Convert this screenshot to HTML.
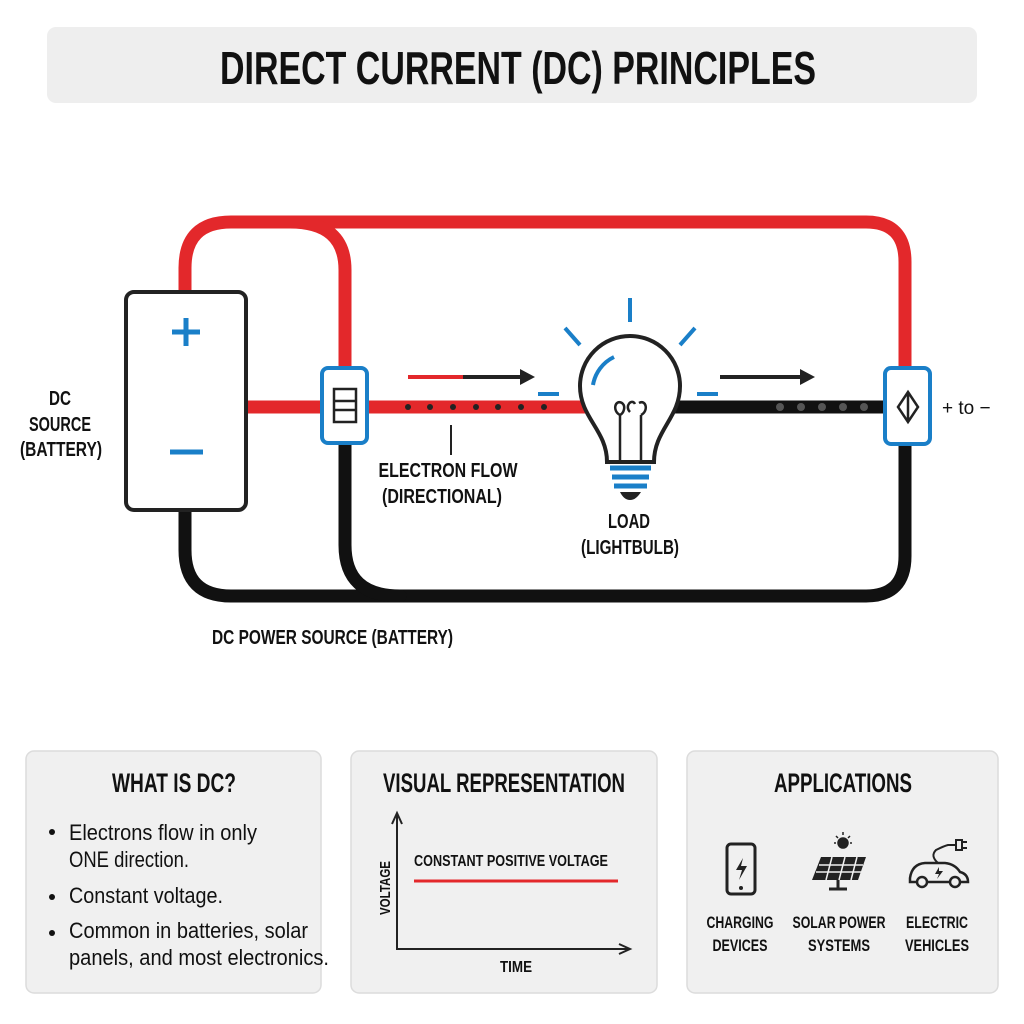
<!DOCTYPE html>
<html><head><meta charset="utf-8"><style>
html,body{margin:0;padding:0;background:#fff;}
svg{display:block;}
text{font-family:"Liberation Sans Narrow","Liberation Sans",sans-serif;fill:#111;}
</style></head><body>
<svg width="1024" height="1024" viewBox="0 0 1024 1024" xmlns="http://www.w3.org/2000/svg">
<rect width="1024" height="1024" fill="#fff"/>
<rect x="47" y="27" width="930" height="76" rx="9" fill="#eeeeee"/>
<text x="518" y="84" font-size="46" font-weight="bold" text-anchor="middle" textLength="596" lengthAdjust="spacingAndGlyphs">DIRECT CURRENT (DC) PRINCIPLES</text>

<g fill="none" stroke-width="13" stroke-linecap="round">
<path d="M185 292 V268 Q185 222 231 222 H866 Q905 222 905 262 V368" stroke="#e3282b"/>
<path d="M290 222 Q345 222 345 270 V368" stroke="#e3282b"/>
<path d="M247 407 H322" stroke="#e3282b" stroke-linecap="butt"/>
<path d="M367 407 H592" stroke="#e3282b" stroke-linecap="butt"/>
<path d="M185 510 V550 Q185 596 231 596 H866 Q905 596 905 556 V445" stroke="#111"/>
<path d="M345 445 V545 Q345 596 400 596" stroke="#111"/>
<path d="M672 407 H885" stroke="#111" stroke-linecap="butt"/>
</g>
<g fill="#222">
<circle cx="408" cy="407" r="3"/><circle cx="430" cy="407" r="3"/><circle cx="453" cy="407" r="3"/><circle cx="476" cy="407" r="3"/><circle cx="498" cy="407" r="3"/><circle cx="521" cy="407" r="3"/><circle cx="544" cy="407" r="3"/>
</g>
<g fill="#555">
<circle cx="780" cy="407" r="4"/><circle cx="801" cy="407" r="4"/><circle cx="822" cy="407" r="4"/><circle cx="843" cy="407" r="4"/><circle cx="864" cy="407" r="4"/>
</g>
<rect x="126" y="292" width="120" height="218" rx="8" fill="#fff" stroke="#222" stroke-width="4"/>
<path d="M186 318 V346 M172 332 H200" stroke="#1a7fc8" stroke-width="5"/>
<path d="M170 452 H203" stroke="#1a7fc8" stroke-width="5"/>
<rect x="322" y="368" width="45" height="75" rx="6" fill="#fff" stroke="#1a7fc8" stroke-width="4"/>
<rect x="334" y="389" width="22" height="33" fill="none" stroke="#222" stroke-width="2.5"/>
<path d="M334 401 H356 M334 410 H356" stroke="#222" stroke-width="2.5"/>
<rect x="885" y="368" width="45" height="76" rx="6" fill="#fff" stroke="#1a7fc8" stroke-width="4"/>
<path d="M908 392 L918 407 L908 422 L898 407 Z M908 392 V422" fill="none" stroke="#222" stroke-width="2.5"/>
<text x="942" y="414" font-size="19" font-family="Liberation Sans,sans-serif">+ to −</text>
<path d="M408 377 H463" stroke="#e3282b" stroke-width="4"/>
<path d="M463 377 H522" stroke="#222" stroke-width="4"/>
<path d="M520 369 L535 377 L520 385 Z" fill="#222"/>
<path d="M720 377 H802" stroke="#222" stroke-width="4"/>
<path d="M800 369 L815 377 L800 385 Z" fill="#222"/>
<path d="M538 394 H559 M697 394 H718" stroke="#1a7fc8" stroke-width="4"/>
<path d="M630 298 V322 M565 328 L580 345 M695 328 L680 345" stroke="#1a7fc8" stroke-width="4"/>
<path d="M607 462 C607 430 580 418 580 386 A50 50 0 0 1 680 386 C680 418 654 430 654 462 Z" fill="#fff" stroke="#222" stroke-width="4"/>
<path d="M593 385 A38 38 0 0 1 614 357" fill="none" stroke="#1a7fc8" stroke-width="4"/>
<path d="M620 462 V415 M641 462 V415 M620 415 c-8 -4 -5 -16 2 -12 c4 3 2 10 -2 12 M630 412 c-6 -6 2 -14 5 -8 M641 415 c8 -4 5 -16 -2 -12" fill="none" stroke="#222" stroke-width="2.5"/>
<path d="M610 468 H651 M612 477 H649 M614 486 H647" stroke="#1a7fc8" stroke-width="5"/>
<path d="M620 492 H641 Q636 500 630 500 Q624 500 620 492Z" fill="#222"/>
<path d="M451 425 V455" stroke="#222" stroke-width="2"/>
<g font-size="20" font-weight="bold">
<text x="448" y="477" text-anchor="middle" textLength="139" lengthAdjust="spacingAndGlyphs">ELECTRON FLOW</text>
<text x="442" y="503" text-anchor="middle" textLength="120" lengthAdjust="spacingAndGlyphs">(DIRECTIONAL)</text>
<text x="629" y="528" text-anchor="middle" textLength="42" lengthAdjust="spacingAndGlyphs">LOAD</text>
<text x="630" y="554" text-anchor="middle" textLength="98" lengthAdjust="spacingAndGlyphs">(LIGHTBULB)</text>
<text x="60" y="405" text-anchor="middle" textLength="22" lengthAdjust="spacingAndGlyphs">DC</text>
<text x="60" y="431" text-anchor="middle" textLength="62" lengthAdjust="spacingAndGlyphs">SOURCE</text>
<text x="61" y="456" text-anchor="middle" textLength="82" lengthAdjust="spacingAndGlyphs">(BATTERY)</text>
<text x="212" y="644" textLength="241" lengthAdjust="spacingAndGlyphs">DC POWER SOURCE (BATTERY)</text>
</g>

<g fill="#f0f0f0" stroke="#dcdcdc" stroke-width="1.5">
<rect x="26" y="751" width="295" height="242" rx="8"/>
<rect x="351" y="751" width="306" height="242" rx="8"/>
<rect x="687" y="751" width="311" height="242" rx="8"/>
</g>
<g font-size="27" text-anchor="middle" font-weight="bold">
<text x="174" y="792" textLength="124" lengthAdjust="spacingAndGlyphs">WHAT IS DC?</text>
<text x="504" y="792" textLength="242" lengthAdjust="spacingAndGlyphs">VISUAL REPRESENTATION</text>
<text x="843" y="792" textLength="138" lengthAdjust="spacingAndGlyphs">APPLICATIONS</text>
</g>
<g font-size="22">
<circle cx="52" cy="832" r="3" fill="#111"/>
<text x="69" y="840" textLength="188" lengthAdjust="spacingAndGlyphs">Electrons flow in only</text>
<text x="69" y="867" textLength="120" lengthAdjust="spacingAndGlyphs">ONE direction.</text>
<circle cx="52" cy="897" r="3" fill="#111"/>
<text x="69" y="903" textLength="154" lengthAdjust="spacingAndGlyphs">Constant voltage.</text>
<circle cx="52" cy="933" r="3" fill="#111"/>
<text x="69" y="938" textLength="239" lengthAdjust="spacingAndGlyphs">Common in batteries, solar</text>
<text x="69" y="965" textLength="260" lengthAdjust="spacingAndGlyphs">panels, and most electronics.</text>
</g>
<path d="M397 815 V949 H628" fill="none" stroke="#222" stroke-width="2"/>
<path d="M392 824 L397 813 L402 824 M619 944 L630 949 L619 954" fill="none" stroke="#222" stroke-width="2"/>
<path d="M414 881 H618" stroke="#e3282b" stroke-width="3"/>
<g font-weight="bold">
<text x="414" y="866" font-size="16" textLength="194" lengthAdjust="spacingAndGlyphs">CONSTANT POSITIVE VOLTAGE</text>
<text transform="translate(390 915) rotate(-90)" font-size="15" textLength="54" lengthAdjust="spacingAndGlyphs">VOLTAGE</text>
<text x="516" y="972" font-size="16" text-anchor="middle" textLength="32" lengthAdjust="spacingAndGlyphs">TIME</text>
</g>
<rect x="727" y="844" width="28" height="50" rx="4" fill="none" stroke="#222" stroke-width="3"/>
<circle cx="741" cy="888" r="2" fill="#222"/>
<path d="M743 858 L736 870 H742 L739 880 L747 866 H741 Z" fill="#222"/>
<g stroke="#222" stroke-width="1.5">
<circle cx="843" cy="843" r="5" fill="#222"/>
<path d="M843 832 V835 M834 843 H836 M850 843 H852 M836 836 L838 838 M850 836 L848 838"/>
</g>
<path d="M821 857 H866 L858 880 H812 Z" fill="#222"/>
<path d="M819 865 H863 M816 872 H861 M832 857 L826 880 M845 857 L839 880 M857 857 L851 880" stroke="#f0f0f0" stroke-width="1.5"/>
<path d="M838 880 V888 M829 889 H847" stroke="#222" stroke-width="3"/>
<path d="M910 878 Q912 864 925 863 H945 Q955 864 960 872 Q968 874 968 882 H910Z" fill="none" stroke="#222" stroke-width="2.5"/>
<circle cx="922" cy="882" r="5" fill="#f0f0f0" stroke="#222" stroke-width="2.5"/>
<circle cx="955" cy="882" r="5" fill="#f0f0f0" stroke="#222" stroke-width="2.5"/>
<path d="M938 863 Q930 856 936 850 Q944 846 948 845 H956 M956 840 H962 V850 H956 Z M962 842 H967 M962 848 H967" fill="none" stroke="#222" stroke-width="2"/>
<path d="M939 867 L935 874 H939 L937 879 L943 871 H939 Z" fill="#222"/>
<g font-size="17" text-anchor="middle" font-weight="bold">
<text x="740" y="928" textLength="67" lengthAdjust="spacingAndGlyphs">CHARGING</text>
<text x="740" y="951" textLength="55" lengthAdjust="spacingAndGlyphs">DEVICES</text>
<text x="839" y="928" textLength="93" lengthAdjust="spacingAndGlyphs">SOLAR POWER</text>
<text x="839" y="951" textLength="62" lengthAdjust="spacingAndGlyphs">SYSTEMS</text>
<text x="937" y="928" textLength="62" lengthAdjust="spacingAndGlyphs">ELECTRIC</text>
<text x="937" y="951" textLength="64" lengthAdjust="spacingAndGlyphs">VEHICLES</text>
</g>
</svg>
</body></html>
